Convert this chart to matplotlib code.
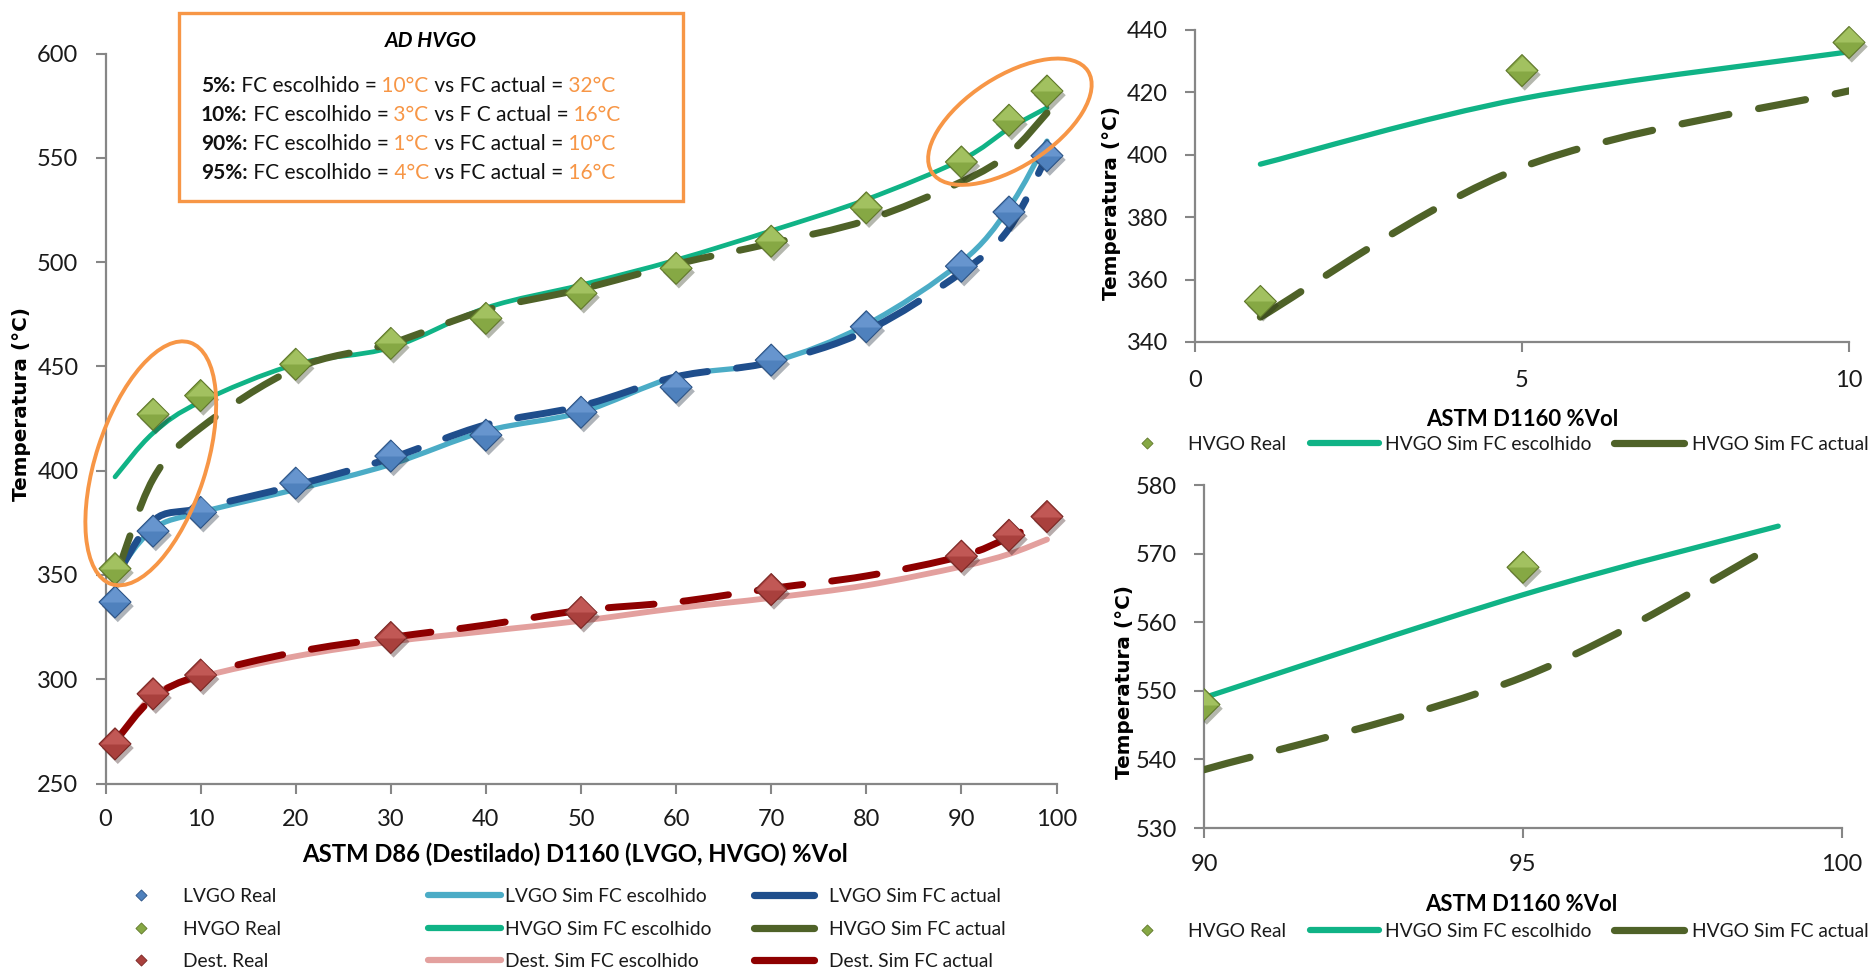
import matplotlib
matplotlib.use('Agg')
import matplotlib.pyplot as plt
from matplotlib import font_manager
from matplotlib.path import Path
from matplotlib.patches import PathPatch, Ellipse, Rectangle
from matplotlib.lines import Line2D
from matplotlib.transforms import ScaledTranslation
import matplotlib.patheffects as pe
import numpy as np

# ---------------- data ----------------
x_pct = [1, 5, 10, 20, 30, 40, 50, 60, 70, 80, 90, 95, 99]
x_dest = [1, 5, 10, 30, 50, 70, 90, 95, 99]
lvgo_real = [337, 371, 380, 394, 407, 417, 428, 440, 453, 469, 498, 524, 551]
hvgo_real = [353, 427, 436, 451, 461, 473, 485, 497, 510, 526, 548, 568, 582]
dest_real = [269, 293, 302, 320, 332, 343, 359, 369, 378]
lvgo_sim_esc = [350, 372, 380, 391, 403, 419, 428, 445, 452, 470, 500, 526, 558]
lvgo_sim_act = [348, 376, 382, 393, 406, 422, 431, 445, 452, 467, 495, 516, 551]
hvgo_sim_esc = [397, 418, 433, 451, 459, 478, 489, 501, 515, 530, 549, 564, 574]
hvgo_sim_act = [348, 396, 420.5, 449, 461, 477, 487, 499, 509, 520, 538.5, 552, 571.5]
dest_sim_esc = [270, 292, 301, 311, 318, 323, 328, 334, 339, 345, 354, 360, 367]
dest_sim_act = [270, 291, 302, 313, 320, 326, 333, 337, 343.5, 349.5, 359, 368, 377]

main_xticks = [0, 10, 20, 30, 40, 50, 60, 70, 80, 90, 100]
main_yticks = [250, 300, 350, 400, 450, 500, 550, 600]
top_xticks = [0, 5, 10]
top_yticks = [340, 360, 380, 400, 420, 440]
bot_xticks = [90, 95, 100]
bot_yticks = [530, 540, 550, 560, 570, 580]

box_title = "AD HVGO"
box_lines = [
    [("5%:", 'b'), (" FC escolhido =", 'n'), (" 10°C", 'o'), (" vs FC actual =", 'n'), (" 32°C", 'o')],
    [("10%:", 'b'), (" FC escolhido =", 'n'), (" 3°C", 'o'), (" vs F C actual =", 'n'), (" 16°C", 'o')],
    [("90%:", 'b'), (" FC escolhido =", 'n'), (" 1°C", 'o'), (" vs FC actual =", 'n'), (" 10°C", 'o')],
    [("95%:", 'b'), (" FC escolhido =", 'n'), (" 4°C", 'o'), (" vs FC actual =", 'n'), (" 16°C", 'o')],
]

# ---------------- style ----------------
W, H, DPI = 1872, 971, 100
avail = {f.name for f in font_manager.fontManager.ttflist}
def pick(*names):
    for n in names:
        if n in avail:
            return n
    return 'DejaVu Sans'
BODY = pick('Lato', 'Open Sans', 'Liberation Sans')
plt.rcParams['font.family'] = [BODY, 'DejaVu Sans']
FAM = [BODY, 'DejaVu Sans']
YFAM = ['DejaVu Sans']

GRAY = '#868686'
ORANGE = '#F79646'
C_LV_ESC = '#4BACC6'
C_LV_ACT = '#1F4E8C'
C_HV_ESC = '#10B386'
C_HV_ACT = '#4F6228'
C_DE_ESC = '#E3A09E'
C_DE_ACT = '#8E0000'
MK = {
    'lvgo': ('#4F81BD', '#6A98D0', '#2C5385'),
    'hvgo': ('#86A844', '#A6C464', '#5F772A'),
    'dest': ('#A9403D', '#C45B58', '#7A2623'),
}
DASH = (0, (6.6, 4.2))

fig = plt.figure(figsize=(W / DPI, H / DPI), dpi=DPI)
renderer = fig.canvas.get_renderer()


def fit_size(s, target_px, **kw):
    t = fig.text(0, 0, s, fontsize=10, **kw)
    w = t.get_window_extent(renderer).width
    t.remove()
    return 10.0 * target_px / w


FS_YLAB = fit_size("Temperatura (°C)", 195, family=YFAM, fontweight='bold')
FS_XLAB = fit_size("ASTM D86 (Destilado) D1160 (LVGO, HVGO) %Vol", 547, family=FAM, fontweight='bold')
FS_XLAB2 = fit_size("ASTM D1160 %Vol", 193, family=FAM, fontweight='bold')
FS_LEG = fit_size("LVGO Sim FC escolhido", 202, family=FAM)
FS_TITLE = fit_size(box_title, 92, family=FAM, fontweight='bold', fontstyle='italic')
FS_TICK = fit_size("600", 41, family=FAM)

ax = fig.add_axes([105.5 / W, 1 - 783.5 / H, 951 / W, 730 / H])
ax1 = fig.add_axes([1195 / W, 1 - 342 / H, 654 / W, 312 / H])
ax2 = fig.add_axes([1204 / W, 1 - 828 / H, 638 / W, 343 / H])


def style(a, xlim, ylim, xt, yt, xpad):
    a.set_xlim(xlim)
    a.set_ylim(ylim)
    a.set_xticks(xt)
    a.set_yticks(yt)
    for s in ['top', 'right']:
        a.spines[s].set_visible(False)
    for s in ['left', 'bottom']:
        a.spines[s].set_color(GRAY)
        a.spines[s].set_linewidth(1.6)
    a.tick_params(axis='both', direction='out', length=7, width=1.5, color=GRAY,
                  labelsize=FS_TICK, labelcolor='#1a1a1a')
    a.tick_params(axis='y', pad=12.5)
    a.tick_params(axis='x', pad=xpad)
    a.patch.set_alpha(0)


style(ax, (0, 100), (250, 600), main_xticks, main_yticks, 11.5)
style(ax1, (0, 10), (340, 440), top_xticks, top_yticks, 13.5)
style(ax2, (90, 100), (530, 580), bot_xticks, bot_yticks, 11.5)


def smooth_path(xs, ys):
    P = np.column_stack([np.asarray(xs, float), np.asarray(ys, float)])
    n = len(P)
    verts = [P[0]]
    codes = [Path.MOVETO]
    for i in range(n - 1):
        p0 = P[i - 1] if i > 0 else P[i]
        p1, p2 = P[i], P[i + 1]
        p3 = P[i + 2] if i + 2 < n else P[i + 1]
        verts += [p1 + (p2 - p0) / 6.0, p2 - (p3 - p1) / 6.0, p2]
        codes += [Path.CURVE4] * 3
    return Path(verts, codes)


def curve(a, xs, ys, color, lw, dashed=False, z=3):
    p = PathPatch(smooth_path(xs, ys), fill=False, edgecolor=color, lw=lw,
                  capstyle='round', joinstyle='round', zorder=z)
    if dashed:
        p.set_linestyle(DASH)
    a.add_patch(p)


DIAMOND = Path([(0, 1), (1, 0), (0, -1), (-1, 0), (0, 1)],
               [Path.MOVETO, Path.LINETO, Path.LINETO, Path.LINETO, Path.CLOSEPOLY])
TOPHALF = Path([(-1, 0), (0, 1), (1, 0), (-1, 0)],
               [Path.MOVETO, Path.LINETO, Path.LINETO, Path.CLOSEPOLY])


def real(a, xs, ys, key, ms=23, clip=True):
    base, light, edge = MK[key]
    a.plot(xs, ys, ls='none', marker=DIAMOND, ms=ms, mfc=base, mec=edge, mew=0.8,
           zorder=6, clip_on=clip,
           path_effects=[pe.SimplePatchShadow(offset=(2, -3), alpha=0.35), pe.Normal()])
    a.plot(xs, ys, ls='none', marker=TOPHALF, ms=ms - 1.5, mfc=light, mec='none',
           zorder=7, clip_on=clip, alpha=0.9)


# main chart
curve(ax, x_pct, dest_sim_esc, C_DE_ESC, 4.2)
curve(ax, x_pct, dest_sim_act, C_DE_ACT, 5.0, dashed=True, z=4)
curve(ax, x_pct, lvgo_sim_esc, C_LV_ESC, 3.8)
curve(ax, x_pct, lvgo_sim_act, C_LV_ACT, 5.0, dashed=True, z=4)
curve(ax, x_pct, hvgo_sim_esc, C_HV_ESC, 3.4)
curve(ax, x_pct, hvgo_sim_act, C_HV_ACT, 5.0, dashed=True, z=4)
real(ax, x_pct, lvgo_real, 'lvgo', clip=False)
real(ax, x_pct, hvgo_real, 'hvgo', clip=False)
real(ax, x_dest, dest_real, 'dest', clip=False)

# zoom panels
lo = [i for i, v in enumerate(x_pct) if v <= 10]
hi = [i for i, v in enumerate(x_pct) if v >= 90]
for a, idx, clip in ((ax1, lo, False), (ax2, hi, True)):
    xs = [x_pct[i] for i in idx]
    curve(a, xs, [hvgo_sim_esc[i] for i in idx], C_HV_ESC, 3.8)
    curve(a, xs, [hvgo_sim_act[i] for i in idx], C_HV_ACT, 5.2, dashed=True, z=4)
    ry = [hvgo_real[i] for i in idx]
    keep = [k for k, v in enumerate(ry) if a.get_ylim()[0] <= v <= a.get_ylim()[1]]
    real(a, [xs[k] for k in keep], [ry[k] for k in keep], 'hvgo', clip=clip)

# axis titles
ax.set_ylabel("Temperatura (°C)", fontsize=FS_YLAB, fontweight='bold', family=YFAM)
ax.yaxis.set_label_coords(-0.088, 0.52)
ax.set_xlabel("ASTM D86 (Destilado) D1160 (LVGO, HVGO) %Vol", fontsize=FS_XLAB,
              fontweight='bold', family=FAM)
ax.xaxis.set_label_coords(0.4935, -0.097)
for a, yc, xy in ((ax1, (-0.127, 0.446), (0.5, -0.25)),
                  (ax2, (-0.124, 0.427), (0.498, -0.222))):
    a.set_ylabel("Temperatura (°C)", fontsize=FS_YLAB, fontweight='bold', family=YFAM)
    a.yaxis.set_label_coords(*yc)
    a.set_xlabel("ASTM D1160 %Vol", fontsize=FS_XLAB2, fontweight='bold', family=FAM)
    a.xaxis.set_label_coords(*xy)
for a in (ax, ax1, ax2):
    a.yaxis.label.set_va('center')
    a.xaxis.label.set_va('center')


# orange ellipses (annotations), centred on data coordinates, sized in inches
def ring(a, cx, cy, w_in, h_in, ang):
    tr = fig.dpi_scale_trans + ScaledTranslation(cx, cy, a.transData)
    e = Ellipse((0, 0), w_in, h_in, angle=ang, fill=False, ec=ORANGE, lw=2.8,
                transform=tr, zorder=10, clip_on=False)
    fig.add_artist(e)

ring(ax, 4.76, 403.5, 2.54, 1.10, 72)
ring(ax, 95.1, 567.3, 1.86, 0.90, 33)


# legends
def px_to_pt(px):
    return px * 72.0 / DPI

def entry(handle, label, h_left, h_right, t_left, yc, fs=FS_LEG):
    hl = px_to_pt(h_right - h_left) / fs
    tp = px_to_pt(t_left - h_right) / fs
    fig.legend([handle], [label], loc='center left',
               bbox_to_anchor=(h_left / W, 1 - yc / H), frameon=False,
               borderpad=0, borderaxespad=0, handlelength=hl, handletextpad=tp,
               prop={'family': FAM, 'size': fs}, labelcolor='#1a1a1a')

def mk_handle(key):
    base, light, edge = MK[key]
    return Line2D([], [], ls='none', marker=DIAMOND, ms=8, mfc=base, mec=edge, mew=0.6)

def ln_handle(color, lw):
    return Line2D([], [], color=color, lw=lw, solid_capstyle='round')

rows = [896, 929, 961]
col1 = [('lvgo', 'LVGO Real'), ('hvgo', 'HVGO Real'), ('dest', 'Dest. Real')]
col2 = [(C_LV_ESC, 'LVGO Sim FC escolhido'), (C_HV_ESC, 'HVGO Sim FC escolhido'),
        (C_DE_ESC, 'Dest. Sim FC escolhido')]
col3 = [(C_LV_ACT, 'LVGO Sim FC actual'), (C_HV_ACT, 'HVGO Sim FC actual'),
        (C_DE_ACT, 'Dest. Sim FC actual')]
for yc, (k, lab) in zip(rows, col1):
    entry(mk_handle(k), lab, 104, 178, 183, yc)
for yc, (c, lab) in zip(rows, col2):
    entry(ln_handle(c, 4.5), lab, 428, 501, 505, yc)
for yc, (c, lab) in zip(rows, col3):
    entry(ln_handle(c, 5.2), lab, 754, 814, 829, yc)

for yc in (444, 931):
    entry(mk_handle('hvgo'), 'HVGO Real', 1112, 1182, 1188, yc)
    entry(ln_handle(C_HV_ESC, 4.5), 'HVGO Sim FC escolhido', 1310, 1379, 1385, yc)
    entry(ln_handle(C_HV_ACT, 5.2), 'HVGO Sim FC actual', 1614, 1684, 1692, yc)

# annotation box
fig.add_artist(Rectangle((178.5 / W, 1 - 201 / H), (683 - 178.5) / W, (201 - 13.5) / H,
                         transform=fig.transFigure, fill=False, ec=ORANGE, lw=2.4, zorder=20))
fig.text(431 / W, 1 - 41 / H, box_title, ha='center', va='center', fontsize=FS_TITLE,
         fontweight='bold', fontstyle='italic', family=FAM)

BOX_FS = 15
def props(kind):
    d = {'fontsize': BOX_FS, 'family': FAM, 'color': '#111111'}
    if kind == 'b':
        d['fontweight'] = 'bold'
    if kind == 'o':
        d['color'] = ORANGE
    return d

def advance(s, kind):
    t1 = fig.text(0, 0, '|' + s + '|', **props(kind))
    t2 = fig.text(0, 0, '||', **props(kind))
    w = t1.get_window_extent(renderer).width - t2.get_window_extent(renderer).width
    t1.remove()
    t2.remove()
    return w

for yc, pieces in zip([86, 115, 144, 173], box_lines):
    x = 201.0
    for s, kind in pieces:
        fig.text(x / W, 1 - yc / H, s, ha='left', va='center', **props(kind))
        x += advance(s, kind)

fig.savefig('out.png', dpi=DPI)
